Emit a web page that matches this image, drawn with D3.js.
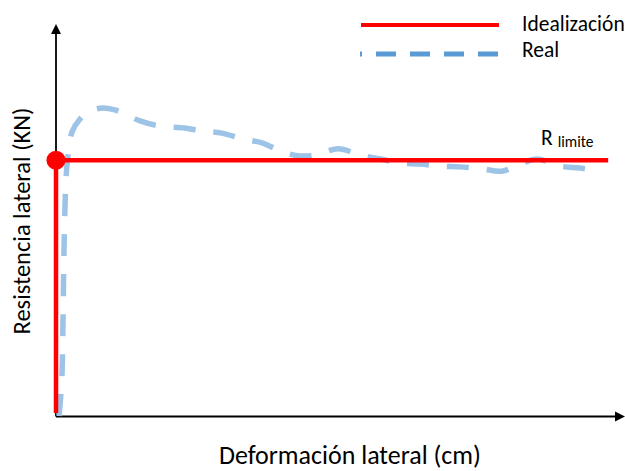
<!DOCTYPE html>
<html>
<head>
<meta charset="utf-8">
<script src="https://cdn.jsdelivr.net/npm/d3@7"></script>
<style>
  html, body { margin: 0; padding: 0; background: #fff; }
  svg { display: block; }
  text { font-family: Carlito, Lato, "Open Sans", sans-serif; fill: #000; }
</style>
</head>
<body>
<div id="chart"></div>
<script>
// ---- data (arbitrary units: deformation 0..100, resistance 0..100) ----
const realX = [0.54, 0.89, 1.07, 1.25, 1.43, 1.70, 1.96, 2.32, 2.86, 4.29, 6.07, 8.39, 10.5, 12.3, 15.0, 18.6, 23.0, 26.3, 29.6, 33.4, 36.8, 40.5, 43.6, 46.3, 50.4, 54.3, 57.9, 61.4, 65.0, 68.6, 72.1, 76.1, 79.6, 82.9, 85.9, 90.0, 93.6, 97.5];
const realY = [0.13, 6.0, 10.6, 24.6, 42.4, 57.7, 64.1, 68.4, 72.5, 75.8, 77.8, 78.6, 78.1, 77.1, 75.3, 74.0, 73.5, 72.7, 72.2, 70.7, 69.7, 67.4, 66.4, 66.6, 68.2, 66.6, 65.6, 64.6, 64.3, 63.8, 63.6, 63.1, 62.5, 64.3, 65.6, 63.8, 63.3, 62.5];
const idealX = [0, 0, 98.6];
const idealY = [0.9, 65.3, 65.3];
const rLimite = 65.3;
const seriesNames = ["Idealización", "Real"];
const xLabel = "Deformación lateral (cm)";
const yLabel = "Resistencia lateral (KN)";

const W = 625, H = 471;
const svg = d3.select("#chart").append("svg").attr("width", W).attr("height", H);

const x = d3.scaleLinear().domain([0, 100]).range([56, 616]);
const y = d3.scaleLinear().domain([0, 100]).range([416.5, 24]);

const red = "#FF0000", lightBlue = "#9DC3E6", blue = "#5B9BD5";

// axes (arrows)
svg.append("defs").append("marker")
  .attr("id", "arrow").attr("viewBox", "0 0 10 10").attr("refX", 0).attr("refY", 5)
  .attr("markerWidth", 10).attr("markerHeight", 12).attr("markerUnits", "userSpaceOnUse")
  .attr("orient", "auto")
  .append("path").attr("d", "M0,0 L10,5 L0,10 Z").attr("fill", "#000");

svg.append("line").attr("x1", x(0)).attr("y1", y(0)).attr("x2", x(0)).attr("y2", 34)
  .attr("stroke", "#000").attr("stroke-width", 1.8).attr("marker-end", "url(#arrow)");
svg.append("line").attr("x1", x(0)).attr("y1", y(0)).attr("x2", 615).attr("y2", y(0))
  .attr("stroke", "#000").attr("stroke-width", 1.8).attr("marker-end", "url(#arrow)");

// real curve
const realData = realX.map((v, i) => [v, realY[i]]);
svg.append("path")
  .datum(realData)
  .attr("d", d3.line().x(d => x(d[0])).y(d => y(d[1])).curve(d3.curveCatmullRom.alpha(0.5)))
  .attr("fill", "none").attr("stroke", lightBlue).attr("stroke-width", 5.5)
  .attr("stroke-dasharray", "22,18");

// idealized
const idealData = idealX.map((v, i) => [v, idealY[i]]);
svg.append("path")
  .datum(idealData)
  .attr("d", d3.line().x(d => x(d[0])).y(d => y(d[1])))
  .attr("fill", "none").attr("stroke", red).attr("stroke-width", 4.5);

svg.append("circle").attr("cx", x(0)).attr("cy", y(rLimite)).attr("r", 9.5).attr("fill", red);

// R limite label
const rl = svg.append("text").attr("x", 541).attr("y", 145);
rl.append("tspan").attr("font-size", 21.5).text("R");
rl.append("tspan").attr("font-size", 15.5).attr("dx", 5).attr("dy", 2).text("limite");

// legend
svg.append("line").attr("x1", 361).attr("x2", 499).attr("y1", 25).attr("y2", 25)
  .attr("stroke", red).attr("stroke-width", 4);
svg.append("line").attr("x1", 360).attr("x2", 498).attr("y1", 54).attr("y2", 54)
  .attr("stroke", blue).attr("stroke-width", 5)
  .attr("stroke-dasharray", "20,14").attr("stroke-dashoffset", 18);
svg.append("text").attr("x", 522).attr("y", 31).attr("font-size", 21.5).text(seriesNames[0]);
svg.append("text").attr("x", 522).attr("y", 57).attr("font-size", 21.5).text(seriesNames[1]);

// axis labels, sized to the reference's text widths
function fit(sel, target) {
  const w = sel.node().getComputedTextLength();
  const fs = +sel.attr("font-size");
  sel.attr("font-size", fs * target / w);
}
const xl = svg.append("text").attr("x", 350).attr("y", 464).attr("text-anchor", "middle")
  .attr("font-size", 24).text(xLabel);
fit(xl, 262);
const yl = svg.append("text").attr("transform", "translate(30,221) rotate(-90)")
  .attr("text-anchor", "middle").attr("font-size", 24).text(yLabel);
fit(yl, 227);
</script>
</body>
</html>
